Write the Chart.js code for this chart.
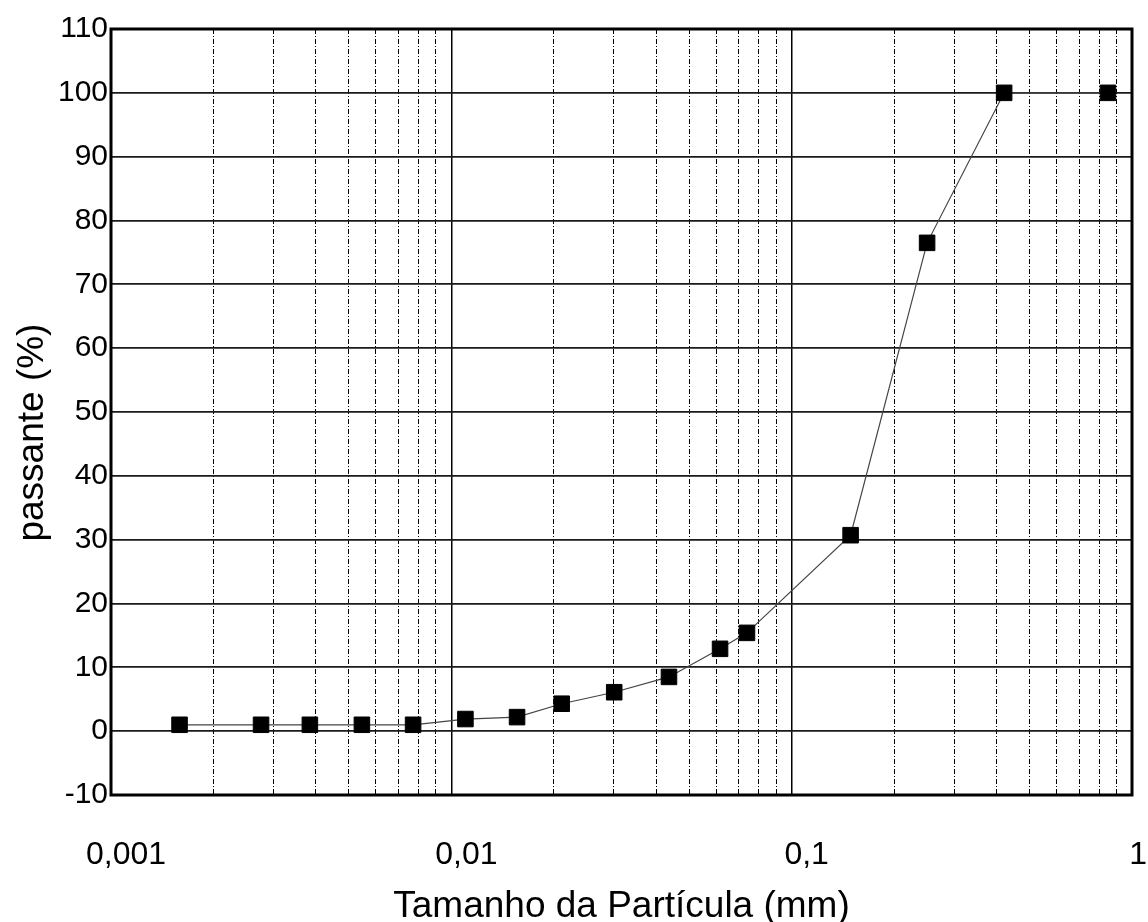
<!DOCTYPE html>
<html>
<head>
<meta charset="utf-8">
<title>Curva granulométrica</title>
<script src="https://cdn.jsdelivr.net/npm/chart.js@4/dist/chart.umd.min.js"></script>
<style>
  body { margin: 0; background: #fff; }
</style>
</head>
<body>
<canvas id="myChart" width="1148" height="922"></canvas>
<script>
// tamanho da particula (mm) e % passante
const tamanhos = [0.00159, 0.00276, 0.00384, 0.00546, 0.00772, 0.0110, 0.0156, 0.0211,
                  0.0301, 0.0436, 0.0616, 0.0739, 0.149, 0.250, 0.421, 0.850];
const passante = [1.0, 1.0, 1.0, 1.0, 1.0, 1.9, 2.2, 4.3,
                  6.1, 8.5, 12.9, 15.4, 30.7, 76.5, 100, 100];

const xDecadas = [0.001, 0.01, 0.1, 1];
const xTickLabels = ['0,001', '0,01', '0,1', '1\u00a0\u00a0'];
const yMin = -10;
const yMax = 110;

const FONTE = "'Liberation Sans', Arial, sans-serif";

function isDecada(v) {
    const l = Math.log10(v);
    return Math.abs(l - Math.round(l)) < 1e-6;
}

// moldura grossa em volta da area do grafico
const moldura = {
    id: 'moldura',
    afterDraw(chart) {
        const a = chart.chartArea;
        const c = chart.ctx;
        c.save();
        c.strokeStyle = '#000';
        c.lineWidth = 3;
        c.strokeRect(a.left, a.top, a.right - a.left, a.bottom - a.top);
        c.restore();
    }
};

window.addEventListener('DOMContentLoaded', () => {
    var ctx = document.getElementById('myChart').getContext('2d');

    const pontos = tamanhos.map((t, i) => ({ x: t, y: passante[i] }));

    new Chart(ctx, {
        type: 'line',
        data: {
            datasets: [{
                data: pontos,
                borderColor: '#444',
                borderWidth: 1.2,
                tension: 0,
                pointStyle: 'rect',
                pointRadius: 11,
                pointHoverRadius: 11,
                pointBackgroundColor: '#000',
                pointBorderColor: '#000',
                pointBorderWidth: 1
            }]
        },
        options: {
            responsive: false,
            animation: false,
            devicePixelRatio: 1,
            layout: { padding: { top: 29, right: 16, left: 0, bottom: 0 } },
            plugins: {
                legend: { display: false },
                tooltip: { enabled: false }
            },
            scales: {
                x: {
                    type: 'logarithmic',
                    min: xDecadas[0],
                    max: xDecadas[xDecadas.length - 1],
                    afterBuildTicks: (scale) => {
                        const t = [];
                        for (let d = 0; d < xDecadas.length - 1; d++) {
                            for (let k = 1; k < 10; k++) {
                                t.push({ value: +(k * xDecadas[d]).toPrecision(6) });
                            }
                        }
                        t.push({ value: xDecadas[xDecadas.length - 1] });
                        scale.ticks = t;
                    },
                    afterFit: (scale) => {
                        scale.height = 127;
                        scale.paddingLeft = 0;
                        scale.paddingRight = 0;
                    },
                    grid: {
                        drawTicks: false,
                        color: '#000',
                        lineWidth: (c) => (c.tick && isDecada(c.tick.value)) ? 1.5 : 1
                    },
                    border: {
                        display: false,
                        dash: (c) => (c.tick && !isDecada(c.tick.value)) ? [5, 2, 1, 2] : []
                    },
                    ticks: {
                        autoSkip: false,
                        maxRotation: 0,
                        minRotation: 0,
                        padding: 41,
                        labelOffset: 15,
                        color: '#000',
                        font: { family: FONTE, size: 32 },
                        callback: (v) => {
                            const i = xDecadas.findIndex(d => Math.abs(d - v) < d * 1e-6);
                            return i >= 0 ? xTickLabels[i] : '';
                        }
                    },
                    title: {
                        display: true,
                        text: 'Tamanho da Partícula (mm)',
                        color: '#000',
                        font: { family: FONTE, size: 37, lineHeight: 0.8 },
                        padding: { top: 0, bottom: 0 }
                    }
                },
                y: {
                    min: yMin,
                    max: yMax,
                    afterFit: (scale) => { scale.width = 111; },
                    grid: {
                        drawTicks: false,
                        color: '#1a1a1a',
                        lineWidth: 1.7
                    },
                    border: { display: false },
                    ticks: {
                        stepSize: 5,
                        padding: 3,
                        color: '#000',
                        font: { family: FONTE, size: 30 },
                        callback: (v) => (v % 10 === 0) ? String(v) : ''
                    },
                    title: {
                        display: true,
                        text: 'passante (%)\u00a0\u00a0\u00a0\u00a0',
                        color: '#000',
                        font: { family: FONTE, size: 37, lineHeight: 1 },
                        padding: { top: 14, bottom: 0 }
                    }
                }
            }
        },
        plugins: [moldura]
    });
});
</script>
</body>
</html>
